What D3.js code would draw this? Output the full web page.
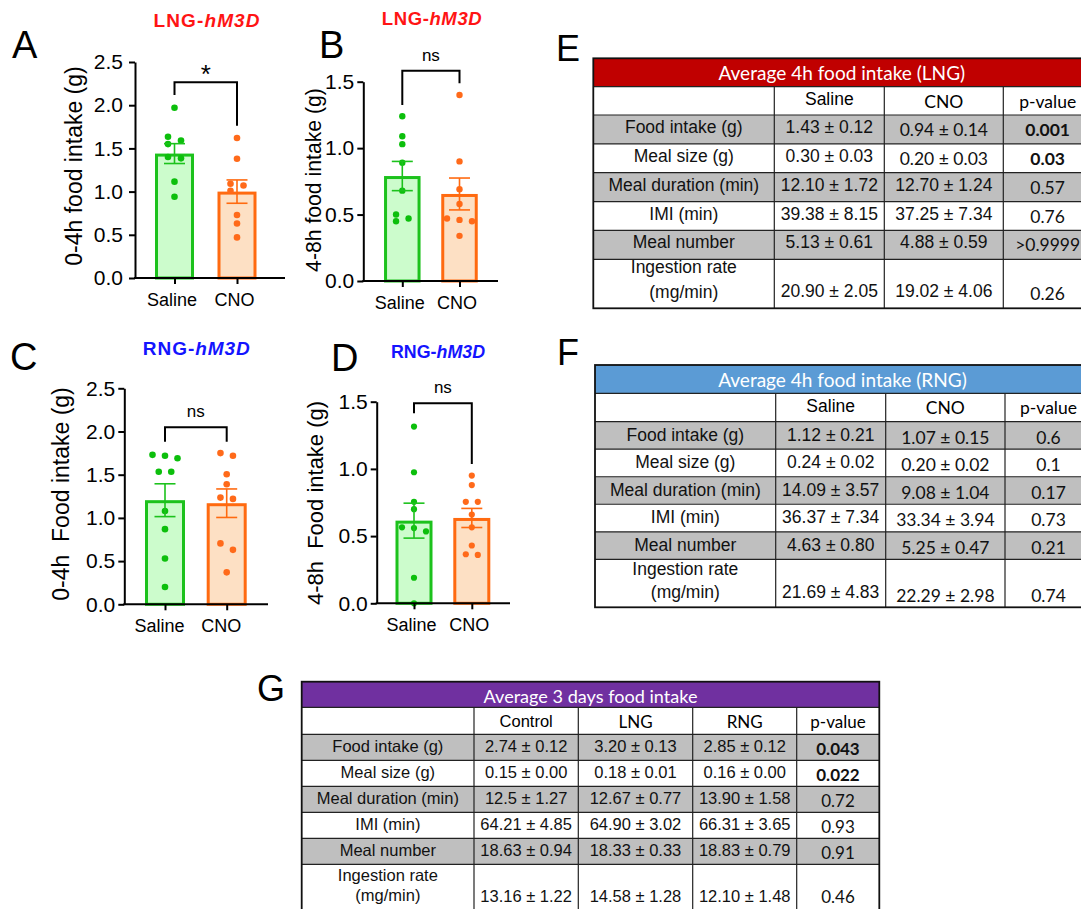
<!DOCTYPE html>
<html>
<head>
<meta charset="utf-8">
<script src="https://cdn.jsdelivr.net/npm/d3@7"></script>
<style>
  body { margin: 0; background: #fff; }
  svg { display: block; }
</style>
</head>
<body>
<svg id="fig" width="1081" height="909"></svg>
<script>
// ---- bar chart data ----
const groups = ['Saline', 'CNO'];

// A: LNG-hM3D, 0-4h
const aSaline = [1.97, 1.635, 1.59, 1.55, 1.40, 1.385, 1.115, 0.94];
const aCno = [1.62, 1.38, 1.09, 1.07, 1.01, 0.73, 0.63, 0.47];
const aMean = [1.44, 1.00];
const aSem = [0.115, 0.135];

// B: LNG-hM3D, 4-8h
const bSaline = [1.24, 1.09, 1.03, 0.89, 0.68, 0.50, 0.47, 0.45];
const bCno = [1.40, 0.90, 0.69, 0.58, 0.47, 0.46, 0.45, 0.34];
const bMean = [0.79, 0.655];
const bSem = [0.11, 0.12];

// C: RNG-hM3D, 0-4h
const cSaline = [1.73, 1.72, 1.69, 1.535, 1.535, 1.08, 0.87, 0.53, 0.20];
const cCno = [1.75, 1.72, 1.505, 1.39, 1.235, 1.22, 0.705, 0.63, 0.37];
const cMean = [1.205, 1.17];
const cSem = [0.19, 0.165];

// D: RNG-hM3D, 4-8h
const dSaline = [1.315, 0.975, 0.755, 0.70, 0.565, 0.56, 0.535, 0.19, 0.0];
const dCno = [0.95, 0.88, 0.755, 0.755, 0.66, 0.565, 0.43, 0.365, 0.36];
const dMean = [0.615, 0.635];
const dSem = [0.13, 0.071];

// ---- table data ----
const rowLabels = ['Food intake (g)', 'Meal size (g)', 'Meal duration (min)', 'IMI (min)', 'Meal number', 'Ingestion rate|(mg/min)'];

const eSaline = ['1.43 ± 0.12', '0.30 ± 0.03', '12.10 ± 1.72', '39.38 ± 8.15', '5.13 ± 0.61', '20.90 ± 2.05'];
const eCno = ['0.94 ± 0.14', '0.20 ± 0.03', '12.70 ± 1.24', '37.25 ± 7.34', '4.88 ± 0.59', '19.02 ± 4.06'];
const eP = ['0.001', '0.03', '0.57', '0.76', '>0.9999', '0.26'];

const fSaline = ['1.12 ± 0.21', '0.24 ± 0.02', '14.09 ± 3.57', '36.37 ± 7.34', '4.63 ± 0.80', '21.69 ± 4.83'];
const fCno = ['1.07 ± 0.15', '0.20 ± 0.02', '9.08 ± 1.04', '33.34 ± 3.94', '5.25 ± 0.47', '22.29 ± 2.98'];
const fP = ['0.6', '0.1', '0.17', '0.73', '0.21', '0.74'];

const gControl = ['2.74 ± 0.12', '0.15 ± 0.00', '12.5 ± 1.27', '64.21 ± 4.85', '18.63 ± 0.94', '13.16 ± 1.22'];
const gLng = ['3.20 ± 0.13', '0.18 ± 0.01', '12.67 ± 0.77', '64.90 ± 3.02', '18.33 ± 0.33', '14.58 ± 1.28'];
const gRng = ['2.85 ± 0.12', '0.16 ± 0.00', '13.90 ± 1.58', '66.31 ± 3.65', '18.83 ± 0.79', '12.10 ± 1.48'];
const gP = ['0.043', '0.022', '0.72', '0.93', '0.91', '0.46'];

const CAL = 'Lato, "Open Sans", sans-serif';
const ARIAL = '"Liberation Sans", Arial, sans-serif';
const svg = d3.select('#fig').attr('font-family', ARIAL);

const green = { stroke: '#1cc21c', fill: '#ccfccc', dot: '#0cbf0c' };
const orange = { stroke: '#ff6a10', fill: '#fde0c4', dot: '#ff6a1a' };

// spread points that sit at about the same height, like the prism scatter
function swarm(vals, y, r, step) {
    const pts = vals.map(v => ({ v: v, py: y(v), dx: 0 })).sort((a, b) => a.py - b.py);
    const chains = [];
    pts.forEach(p => {
        const last = chains[chains.length - 1];
        if (last && p.py - last[last.length - 1].py < 2 * r + 0.6) last.push(p);
        else chains.push([p]);
    });
    chains.forEach(ch => {
        if (ch.length === 1) return;
        const span = ch[ch.length - 1].py - ch[0].py;
        if (span < 2 * r) ch.forEach((p, i) => p.dx = (i - (ch.length - 1) / 2) * step);
        else ch.forEach((p, i) => p.dx = (i % 2 ? 0.5 : -0.5) * step);
    });
    return pts;
}

const panels = [
    { letter: 'A', lx: 12, ly: 58, title: ['LNG-', 'hM3D'], tColor: '#ff1414', tx: 206.5, ty: 27, tw: 106, tSize: 19,
      ax: 135, axEnd: 285, y0: 278, y1: 62, yMax: 2.5, c0: 174.5, c1: 237, barW: 39, pad: 6, dxLab: -3,
      yLabel: '0-4h food intake (g)', ylx: 81.7, yly: 166, ylSize: 23, r: 3.3, step: 13,
      br: { top: 2.265, l: 2.118, r: 1.762, text: '*' },
      pts: [aSaline, aCno], mean: aMean, sem: aSem },
    { letter: 'B', lx: 319, ly: 58, title: ['LNG-', 'hM3D'], tColor: '#ff1414', tx: 431.7, ty: 25, tw: 100, tSize: 18.5,
      ax: 363.3, axEnd: 498, y0: 281, y1: 81.7, yMax: 1.5, c0: 402.3, c1: 459.5, barW: 36.5, pad: 3, dxLab: -3,
      yLabel: '4-8h food intake (g)', ylx: 320.7, yly: 180, ylSize: 21.2, r: 3.2, step: 12.5,
      br: { top: 1.582, l: 1.324, r: 1.488, text: 'ns' },
      pts: [bSaline, bCno], mean: bMean, sem: bSem },
    { letter: 'C', lx: 10, ly: 370, title: ['RNG-', 'hM3D'], tColor: '#1414ff', tx: 196.3, ty: 355, tw: 107, tSize: 19,
      ax: 124.3, axEnd: 268, y0: 604.3, y1: 388.3, yMax: 2.5, c0: 165, c1: 226.7, barW: 40, pad: 3, dxLab: -6,
      yLabel: '0-4h\u00a0\u00a0Food intake (g)', ylx: 69.3, yly: 494, ylSize: 23, r: 3.3, step: 12.5,
      br: { top: 2.049, l: 1.882, r: 1.882, text: 'ns' },
      pts: [cSaline, cCno], mean: cMean, sem: cSem },
    { letter: 'D', lx: 331, ly: 371, title: ['RNG-', 'hM3D'], tColor: '#1414ff', tx: 438, ty: 358.3, tw: 94, tSize: 17.8,
      ax: 376.7, axEnd: 510, y0: 603.3, y1: 401.7, yMax: 1.5, c0: 414, c1: 471.8, barW: 37, pad: 3, dxLab: -3,
      yLabel: '4-8h\u00a0\u00a0Food intake (g)', ylx: 322.7, yly: 503, ylSize: 22, r: 3.1, step: 12,
      br: { top: 1.488, l: 1.414, r: 1.036, text: 'ns' },
      pts: [dSaline, dCno], mean: dMean, sem: dSem }
];

function drawPanel(p) {
    const g = svg.append('g');
    const y = d3.scaleLinear().domain([0, p.yMax]).range([p.y0, p.y1]);
    const x = d3.scalePoint().domain(groups).range([p.c0, p.c1]);
    const cols = [green, orange];

    // panel letter + title
    g.append('text').attr('x', p.lx).attr('y', p.ly).attr('font-size', 38).text(p.letter);
    const t = g.append('text').attr('x', p.tx).attr('y', p.ty).attr('text-anchor', 'middle')
        .attr('font-weight', 'bold').attr('font-size', p.tSize).attr('fill', p.tColor)
        .attr('textLength', p.tw).attr('lengthAdjust', 'spacing');
    t.append('tspan').text(p.title[0]);
    t.append('tspan').attr('font-style', 'italic').text(p.title[1]);

    // bars
    g.selectAll('.bar').data(groups).enter().append('rect')
        .attr('x', d => x(d) - p.barW / 2 + 1.5)
        .attr('y', (d, i) => y(p.mean[i]) + 1.5)
        .attr('width', p.barW - 3)
        .attr('height', (d, i) => y(0) - y(p.mean[i]) - 1.5)
        .attr('fill', (d, i) => cols[i].fill)
        .attr('stroke', (d, i) => cols[i].stroke)
        .attr('stroke-width', 3);

    // points
    groups.forEach((grp, i) => {
        const pts = swarm(p.pts[i], y, p.r, p.step);
        g.selectAll('.pt' + i).data(pts).enter().append('circle')
            .attr('cx', d => x(grp) + d.dx)
            .attr('cy', d => d.py)
            .attr('r', p.r)
            .attr('fill', cols[i].dot);
    });

    // error bars (mean +/- sem)
    groups.forEach((grp, i) => {
        const cx = x(grp), lo = y(p.mean[i] - p.sem[i]), hi = y(p.mean[i] + p.sem[i]);
        const eg = g.append('g').attr('stroke', cols[i].stroke).attr('stroke-width', 1.6);
        eg.append('line').attr('x1', cx).attr('x2', cx).attr('y1', lo).attr('y2', hi);
        eg.append('line').attr('x1', cx - 10.5).attr('x2', cx + 10.5).attr('y1', lo).attr('y2', lo);
        eg.append('line').attr('x1', cx - 10.5).attr('x2', cx + 10.5).attr('y1', hi).attr('y2', hi);
    });

    // y axis
    const yAxis = d3.axisLeft(y)
        .tickValues(d3.range(0, p.yMax + 0.01, 0.5))
        .tickFormat(d3.format('.1f'))
        .tickSize(6).tickSizeOuter(0).tickPadding(p.pad);
    const ya = g.append('g').attr('transform', `translate(${p.ax},0)`).call(yAxis);
    ya.attr('font-family', ARIAL).attr('font-size', 21);
    ya.select('.domain').attr('stroke', '#000').attr('stroke-width', 2);
    ya.selectAll('.tick line').attr('stroke', '#000').attr('stroke-width', 2);
    ya.selectAll('.tick text').attr('fill', '#000');

    // x axis
    const xAxis = d3.axisBottom(x).tickSize(6).tickSizeOuter(0);
    const xa = g.append('g').attr('transform', `translate(0,${p.y0})`).call(xAxis);
    xa.attr('font-family', ARIAL).attr('font-size', 18);
    xa.select('.domain').remove();
    xa.selectAll('.tick line').attr('stroke', '#000').attr('stroke-width', 2);
    xa.selectAll('.tick text').attr('fill', '#000').attr('y', 28).attr('dy', null).attr('dx', p.dxLab);
    g.append('line').attr('x1', p.ax - 1).attr('x2', p.axEnd)
        .attr('y1', p.y0).attr('y2', p.y0).attr('stroke', '#000').attr('stroke-width', 2);

    // y label
    g.append('text')
        .attr('transform', `translate(${p.ylx},${p.yly}) rotate(-90)`)
        .attr('text-anchor', 'middle').attr('font-size', p.ylSize)
        .text(p.yLabel);

    // significance bracket
    const bx0 = x(groups[0]), bx1 = x(groups[1]), bt = y(p.br.top);
    g.append('path')
        .attr('d', `M${bx0},${y(p.br.l)}V${bt}H${bx1}V${y(p.br.r)}`)
        .attr('fill', 'none').attr('stroke', '#000').attr('stroke-width', 2);
    g.append('text').attr('x', (bx0 + bx1) / 2)
        .attr('y', p.br.text === '*' ? bt + 1 : bt - 10)
        .attr('text-anchor', 'middle')
        .attr('font-size', p.br.text === '*' ? 26 : 17)
        .text(p.br.text);
}

panels.forEach(drawPanel);

// ---- tables ----
const tables = [
    { letter: 'E', lx: 556, ly: 61, title: 'Average 4h food intake (LNG)', color: '#c00000', titleW: 247, titleX: 841.8,
      heads: ['Saline', 'CNO', 'p-value'], headCal: [false, true, true],
      cols: [eSaline, eCno], p: eP,
      cal: (r, c) => c === 3 || (c === 2 && r < 2),
      xs: [593.3, 774.3, 884.3, 1003.3, 1092], top: 58.3, headH: 28.4, colHeadH: 28.3, rowH: 28.86, lastH: 49,
      fs: 17.5, calFs: 17.5, off: { t: 21.7, ha: 18.3, hc: 21.5, a: 18, c: 21, l1: 14, l2: 39, la: 37.4, lc: 40.7 } },
    { letter: 'F', lx: 557, ly: 365, title: 'Average 4h food intake (RNG)', color: '#5b9bd5', titleW: 249, titleX: 842.5,
      heads: ['Saline', 'CNO', 'p-value'], headCal: [false, true, true],
      cols: [fSaline, fCno], p: fP,
      cal: (r, c) => c >= 2,
      xs: [595, 775.7, 885.7, 1005, 1092], top: 365, headH: 28.3, colHeadH: 28.4, rowH: 27.52, lastH: 48,
      fs: 17.5, calFs: 17.5, off: { t: 22, ha: 18.4, hc: 20.7, a: 19, c: 22, l1: 15.7, l2: 39, la: 39, lc: 42.4 } },
    { letter: 'G', lx: 257, ly: 701, title: 'Average 3 days food intake', color: '#7030a0', titleW: 214, titleX: 590.5,
      heads: ['Control', 'LNG', 'RNG', 'p-value'], headCal: [false, true, true, true],
      cols: [gControl, gLng, gRng], p: gP,
      cal: (r, c) => c === 4,
      xs: [301.7, 474, 578.3, 692.7, 796.7, 879.3], top: 681.7, headH: 25.6, colHeadH: 27, rowH: 26, lastH: 52,
      fs: 16.5, calFs: 17, off: { t: 21.5, ha: 20, hc: 21, a: 18, c: 20.5, l1: 16.4, l2: 36.7, la: 37.4, lc: 39 } }
];

function drawTable(t) {
    const g = svg.append('g');
    const n = rowLabels.length;
    const edges = [t.top, t.top + t.headH, t.top + t.headH + t.colHeadH];
    for (let i = 0; i < n; i++) edges.push(edges[edges.length - 1] + (i === n - 1 ? t.lastH : t.rowH));
    const x0 = t.xs[0], x1 = t.xs[t.xs.length - 1];
    const mid = i => (t.xs[i] + t.xs[i + 1]) / 2;

    g.append('text').attr('x', t.lx).attr('y', t.ly).attr('font-size', 36).text(t.letter);

    // header bar with title fitted to the width seen in the picture
    g.append('rect').attr('x', x0).attr('y', edges[0]).attr('width', x1 - x0).attr('height', t.headH)
        .attr('fill', t.color);
    const tt = g.append('text').attr('x', t.titleX)
        .attr('y', edges[0] + t.off.t).attr('text-anchor', 'middle')
        .attr('font-family', CAL).attr('font-size', 19).attr('fill', '#fff').text(t.title);
    const w = tt.node().getComputedTextLength();
    tt.attr('font-size', 19 * t.titleW / w);

    // grey rows
    g.selectAll('.grey').data(d3.range(n).filter(i => i % 2 === 0)).enter().append('rect')
        .attr('x', x0).attr('y', i => edges[i + 2]).attr('width', x1 - x0)
        .attr('height', i => edges[i + 3] - edges[i + 2]).attr('fill', '#bfbfbf');

    // grid lines
    g.selectAll('.hl').data(edges.slice(1, edges.length - 1)).enter().append('line')
        .attr('x1', x0).attr('x2', x1).attr('y1', d => d).attr('y2', d => d)
        .attr('stroke', '#222').attr('stroke-width', 1.2);
    g.selectAll('.vl').data(t.xs.slice(1, t.xs.length - 1)).enter().append('line')
        .attr('x1', d => d).attr('x2', d => d).attr('y1', edges[1]).attr('y2', edges[edges.length - 1])
        .attr('stroke', '#222').attr('stroke-width', 1.2);
    g.append('rect').attr('x', x0).attr('y', edges[0]).attr('width', x1 - x0)
        .attr('height', edges[edges.length - 1] - edges[0])
        .attr('fill', 'none').attr('stroke', '#111').attr('stroke-width', 1.8);

    // column heads
    t.heads.forEach((h, j) => {
        g.append('text').attr('x', mid(j + 1))
            .attr('y', edges[1] + (t.headCal[j] ? t.off.hc : t.off.ha))
            .attr('text-anchor', 'middle')
            .attr('font-family', t.headCal[j] ? CAL : ARIAL)
            .attr('font-size', t.headCal[j] ? t.calFs : t.fs)
            .text(h);
    });

    // body cells
    const cells = [];
    rowLabels.forEach((lab, r) => {
        const last = r === n - 1;
        const top = edges[r + 2];
        if (last) {
            const parts = lab.split('|');
            cells.push({ x: mid(0), y: top + t.off.l1, text: parts[0], cal: false });
            cells.push({ x: mid(0), y: top + t.off.l2, text: parts[1], cal: false });
        } else {
            cells.push({ x: mid(0), y: top + t.off.a, text: lab, cal: false });
        }
        const vals = t.cols.map(c => c[r]).concat([t.p[r]]);
        vals.forEach((v, k) => {
            const c = k + 1;
            const cal = t.cal(r, c);
            const off = last ? (cal ? t.off.lc : t.off.la) : (cal ? t.off.c : t.off.a);
            const isP = k === vals.length - 1;
            cells.push({ x: mid(c), y: top + off, text: v, cal: cal,
                bold: isP && parseFloat(v) < 0.05 });
        });
    });
    g.selectAll('.cell').data(cells).enter().append('text')
        .attr('x', d => d.x).attr('y', d => d.y).attr('text-anchor', 'middle')
        .attr('font-family', d => d.cal ? CAL : ARIAL)
        .attr('font-size', d => d.cal ? t.calFs : t.fs)
        .attr('font-weight', d => d.bold ? 'bold' : null)
        .attr('fill', '#111')
        .text(d => d.text);
}

tables.forEach(drawTable);
</script>
</body>
</html>
